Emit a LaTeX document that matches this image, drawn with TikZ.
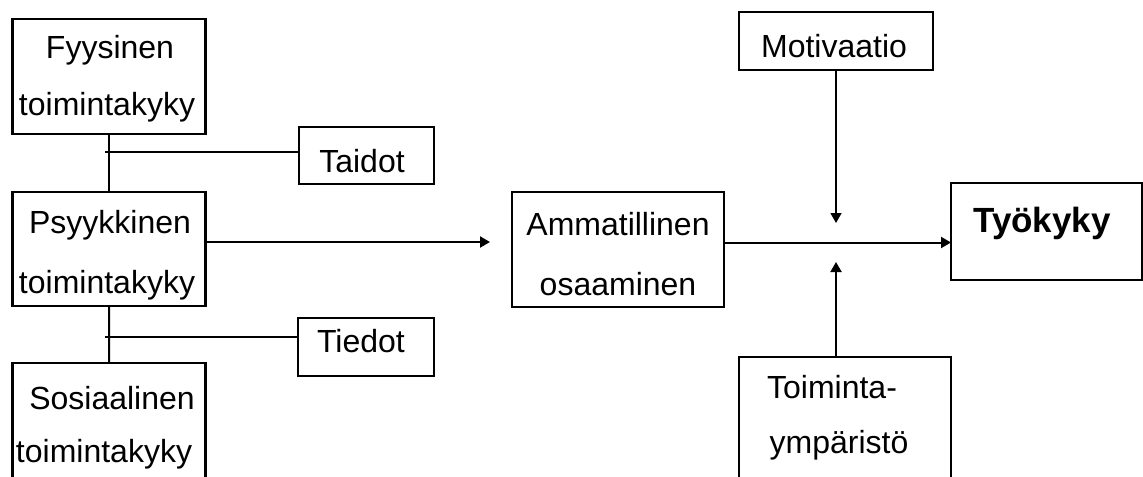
\documentclass[tikz,border=0pt]{standalone}
\usepackage{fontspec}
\setmainfont{Liberation Sans}
\usetikzlibrary{arrows.meta}
\begin{document}
\begin{tikzpicture}[x=0.5pt,y=-0.5pt,
  box/.style={draw, line width=1.3pt, inner sep=0pt, outer sep=0pt, anchor=north west},
  lbl/.style={inner sep=0pt, anchor=base, font=\fontsize{16pt}{19pt}\selectfont},
  conn/.style={line width=1pt},
  tip/.style={-{Triangle[length=5pt,width=5.5pt]}}
]
\clip (0,0) rectangle (1143,476);
% boxes
\node[box, minimum width=96.5pt, minimum height=57.5pt] (F) at (12.7,19) {};
\node[box, minimum width=96.5pt, minimum height=57pt] (P) at (12.7,192) {};
\node[box, minimum width=96.3pt, minimum height=70pt] (S) at (12.7,363) {};
\node[box, minimum width=67.5pt, minimum height=28.5pt] (T) at (299,127) {};
\node[box, minimum width=68pt, minimum height=29pt] (D) at (298,318) {};
\node[box, minimum width=106pt, minimum height=57.5pt] (A) at (512,192) {};
\node[box, minimum width=97pt, minimum height=29pt] (M) at (739,12) {};
\node[box, minimum width=106pt, minimum height=72pt] (E) at (739,357) {};
\node[box, minimum width=95.5pt, minimum height=48.5pt] (K) at (951,183) {};
% texts
\node[lbl] (Ft1) at (110,59) {Fyysinen};
\node[lbl] (Ft2) at (107,115) {toimintakyky};
\node[lbl] (Pt1) at (110,233) {Psyykkinen};
\node[lbl] (Pt2) at (107,293) {toimintakyky};
\node[lbl] (St1) at (112,409) {Sosiaalinen};
\node[lbl] (St2) at (104,462) {toimintakyky};
\node[lbl] (Tt) at (362,172) {Taidot};
\node[lbl] (Dt) at (361,352) {Tiedot};
\node[lbl] (At1) at (618,235) {Ammatillinen};
\node[lbl] (At2) at (618,295) {osaaminen};
\node[lbl] (Mt) at (834,58) {Motivaatio};
\node[lbl] (Et1) at (832,398) {Toiminta-};
\node[lbl] (Et2) at (839,453) {ympäristö};
\node[lbl, font=\fontsize{17.5pt}{21pt}\selectfont\bfseries] (Kt) at (1042,232) {Työkyky};
% junction coordinates
\coordinate (j1) at (105,152);
\coordinate (j2) at (105,337);
\coordinate (a1) at (490,242);
\coordinate (k1) at (951,242.5);
\coordinate (m1) at (836,223);
\coordinate (e1) at (836,262);
% connectors
\draw[conn] (F) -- (P);
\draw[conn] (P) -- (S);
\draw[line width=1.4pt] (j1) -- (j1 -| T.west);
\draw[line width=1.4pt] (j2) -- (j2 -| D.west);
\draw[conn, tip] (P.east |- a1) -- (a1);
\draw[conn, tip] (A.east |- k1) -- (k1);
\draw[line width=0.7pt, tip] (M.south) -- (m1);
\draw[conn, tip] (E.north -| e1) -- (e1);
\end{tikzpicture}
\end{document}
